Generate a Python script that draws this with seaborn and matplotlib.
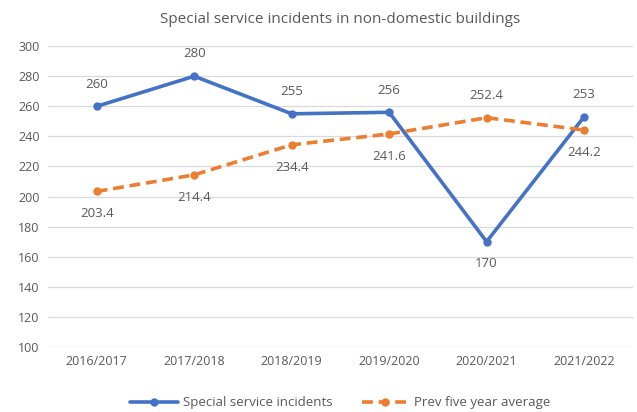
import matplotlib
matplotlib.use("Agg")
import matplotlib.pyplot as plt
import seaborn as sns
import pandas as pd

years = ["2016/2017", "2017/2018", "2018/2019", "2019/2020", "2020/2021", "2021/2022"]
incidents = [260, 280, 255, 256, 170, 253]
five_year_avg = [203.4, 214.4, 234.4, 241.6, 252.4, 244.2]
# label placement: +1 above the point, -1 below
incident_label_side = [1, 1, 1, 1, -1, 1]
avg_label_side = [-1, -1, -1, -1, 1, -1]

sns.set_theme(style="white")
plt.rcParams["font.family"] = ["Open Sans", "DejaVu Sans"]

TEXT = "#595959"
BLUE = "#4472C4"
ORANGE = "#ED7D31"
DASH = (0, (3, 1.6))

df = pd.DataFrame({"year": years, "incidents": incidents, "avg": five_year_avg})
df["pos"] = range(len(years))

fig = plt.figure(figsize=(6.37, 4.12), dpi=100)
ax = fig.add_axes([0.0754, 0.158, 0.918, 0.730])

sns.lineplot(data=df, x="pos", y="incidents", ax=ax, color=BLUE, linewidth=2.6,
             marker="o", markersize=6, markeredgewidth=0,
             label="Special service incidents")
sns.lineplot(data=df, x="pos", y="avg", ax=ax, color=ORANGE, linewidth=2.6,
             marker="o", markersize=6, markeredgewidth=0,
             label="Prev five year average")
ax.lines[1].set_linestyle(DASH)

for i, (v, s) in enumerate(zip(incidents, incident_label_side)):
    ax.annotate(f"{v:g}", (i, v), xytext=(0, 16 * s), textcoords="offset points",
                ha="center", va="center", fontsize=9.5, color=TEXT)
for i, (v, s) in enumerate(zip(five_year_avg, avg_label_side)):
    ax.annotate(f"{v:g}", (i, v), xytext=(0, 16 * s), textcoords="offset points",
                ha="center", va="center", fontsize=9.5, color=TEXT)

ax.set_xlim(-0.5, len(years) - 0.5)
ax.set_ylim(100, 300)
ax.set_yticks(range(100, 301, 20))
ax.set_xticks(range(len(years)))
ax.set_xticklabels(years)
ax.set_xlabel("")
ax.set_ylabel("")
ax.tick_params(axis="both", colors=TEXT, labelsize=9, length=0, pad=6)
ax.yaxis.grid(True, color="#d9d9d9", linewidth=0.9)
ax.xaxis.grid(False)
for sp in ax.spines.values():
    sp.set_visible(False)

ax.set_title("Special service incidents in non-domestic buildings", color=TEXT,
             fontsize=11, pad=17)

leg = ax.legend(loc="upper center", bbox_to_anchor=(0.5, -0.125), ncol=2,
                frameon=False, fontsize=9.5, handlelength=3.6,
                handletextpad=0.4, columnspacing=2.2)
for t in leg.get_texts():
    t.set_color(TEXT)
leg.get_lines()[1].set_linestyle(DASH)

fig.savefig("out.png", dpi=100)
